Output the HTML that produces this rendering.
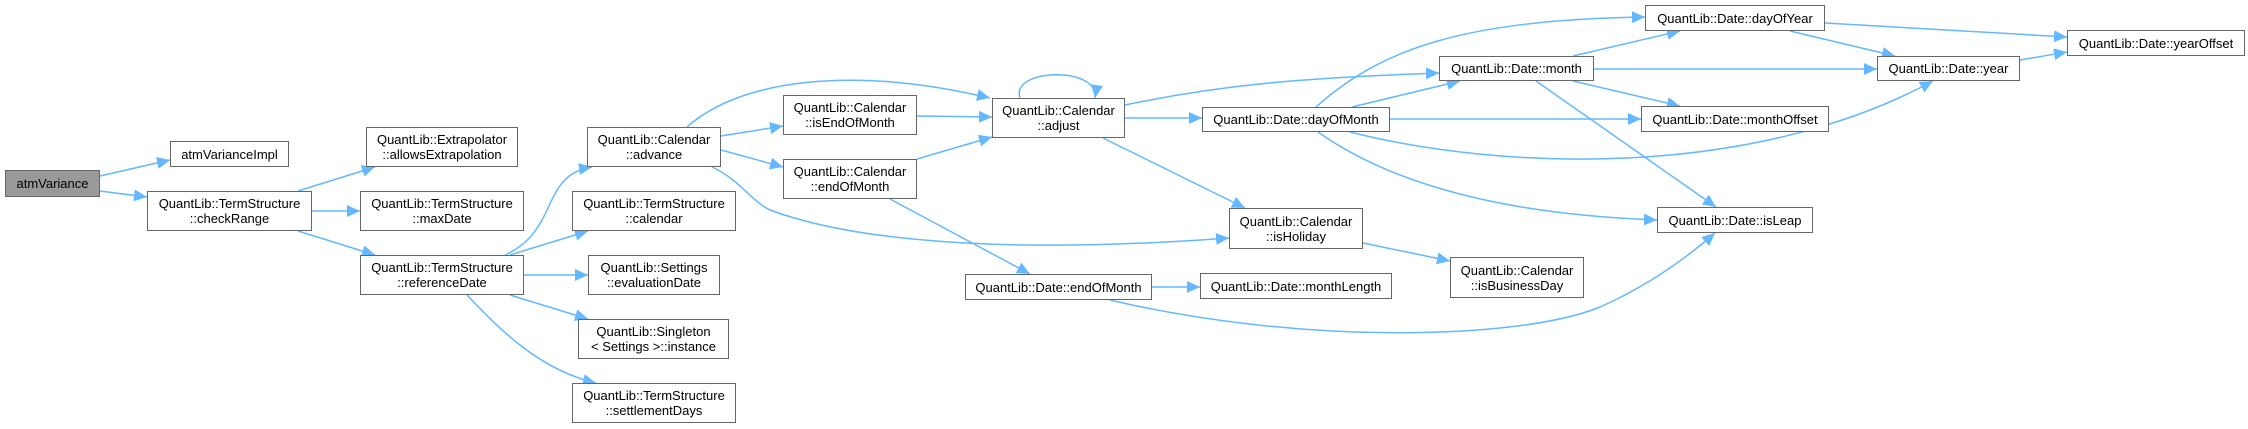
<!DOCTYPE html>
<html><head><meta charset="utf-8"><style>
html,body{margin:0;padding:0;background:#fff;}
body{width:2248px;height:429px;position:relative;overflow:hidden;font-family:"Liberation Sans",Arial,sans-serif;}
.n{position:absolute;box-sizing:border-box;border:1.5px solid #666;background:#fff;display:flex;align-items:center;justify-content:center;text-align:center;font-size:13px;line-height:15px;color:#000;white-space:nowrap;}
svg{position:absolute;left:0;top:0;}
</style></head><body>
<svg width="2248" height="429" viewBox="0 0 2248 429">
<defs><marker id="a" markerUnits="userSpaceOnUse" markerWidth="14" markerHeight="12" refX="13" refY="6" orient="auto"><path d="M0,0 L13,6 L0,12 Z" fill="#63b8ff"/></marker></defs>
<g fill="none" stroke="#63b8ff" stroke-width="1.5" marker-end="url(#a)">
<path d="M100,176 L170,160"/>
<path d="M100,191 L147,197"/>
<path d="M298,191 L375,167"/>
<path d="M312,211 L360,211"/>
<path d="M298,231 L375,255"/>
<path d="M505,255 C560,230 540,175 592,167"/>
<path d="M510,255 L588,231"/>
<path d="M524,275 L588,275"/>
<path d="M510,295 L588,319"/>
<path d="M467,295 C500,330 540,370 596,383"/>
<path d="M687,127 C740,80 850,65 990,98"/>
<path d="M721,136 L783,126"/>
<path d="M721,150 L783,167"/>
<path d="M712,167 C740,180 750,200 770,210 C850,240 1000,255 1229,238"/>
<path d="M917,116 L992,117"/>
<path d="M917,159 L992,137"/>
<path d="M1020,98 C1010,68 1100,66 1095,98"/>
<path d="M1125,105 C1220,85 1300,78 1439,73"/>
<path d="M1125,118 L1202,118"/>
<path d="M1103,138 L1245,208"/>
<path d="M890,199 L1030,274"/>
<path d="M1316,107 C1380,50 1460,20 1645,17"/>
<path d="M1352,107 L1460,81"/>
<path d="M1390,119 L1641,119"/>
<path d="M1350,132 C1500,170 1750,180 1933,81"/>
<path d="M1318,132 C1400,190 1520,215 1657,220"/>
<path d="M1363,243 L1450,261"/>
<path d="M1152,287 L1200,287"/>
<path d="M1110,300 C1300,345 1520,340 1600,307 C1650,285 1690,255 1715,233"/>
<path d="M1573,56 L1680,31"/>
<path d="M1594,69 L1877,69"/>
<path d="M1573,81 L1680,106"/>
<path d="M1536,81 L1716,207"/>
<path d="M1825,23 L2067,37"/>
<path d="M1790,31 L1895,56"/>
<path d="M2020,60 L2067,52"/>
</g></svg>
<div class="n" style="left:5px;top:170px;width:95px;height:27px;background:#999;">atmVariance</div>
<div class="n" style="left:170px;top:141px;width:119px;height:26px;">atmVarianceImpl</div>
<div class="n" style="left:147px;top:191px;width:165px;height:40px;">QuantLib::TermStructure<br>::checkRange</div>
<div class="n" style="left:366px;top:127px;width:152px;height:40px;">QuantLib::Extrapolator<br>::allowsExtrapolation</div>
<div class="n" style="left:360px;top:191px;width:164px;height:40px;">QuantLib::TermStructure<br>::maxDate</div>
<div class="n" style="left:360px;top:255px;width:164px;height:40px;">QuantLib::TermStructure<br>::referenceDate</div>
<div class="n" style="left:587px;top:127px;width:134px;height:40px;">QuantLib::Calendar<br>::advance</div>
<div class="n" style="left:572px;top:191px;width:164px;height:40px;">QuantLib::TermStructure<br>::calendar</div>
<div class="n" style="left:588px;top:255px;width:132px;height:40px;">QuantLib::Settings<br>::evaluationDate</div>
<div class="n" style="left:578px;top:319px;width:151px;height:40px;">QuantLib::Singleton<br>&lt; Settings &gt;::instance</div>
<div class="n" style="left:572px;top:383px;width:164px;height:40px;">QuantLib::TermStructure<br>::settlementDays</div>
<div class="n" style="left:783px;top:95px;width:134px;height:40px;">QuantLib::Calendar<br>::isEndOfMonth</div>
<div class="n" style="left:783px;top:159px;width:134px;height:40px;">QuantLib::Calendar<br>::endOfMonth</div>
<div class="n" style="left:992px;top:98px;width:133px;height:40px;">QuantLib::Calendar<br>::adjust</div>
<div class="n" style="left:1202px;top:107px;width:188px;height:25px;">QuantLib::Date::dayOfMonth</div>
<div class="n" style="left:1229px;top:208px;width:134px;height:41px;">QuantLib::Calendar<br>::isHoliday</div>
<div class="n" style="left:965px;top:274px;width:187px;height:26px;">QuantLib::Date::endOfMonth</div>
<div class="n" style="left:1200px;top:273px;width:192px;height:26px;">QuantLib::Date::monthLength</div>
<div class="n" style="left:1439px;top:56px;width:155px;height:25px;">QuantLib::Date::month</div>
<div class="n" style="left:1450px;top:257px;width:134px;height:41px;">QuantLib::Calendar<br>::isBusinessDay</div>
<div class="n" style="left:1645px;top:5px;width:180px;height:26px;">QuantLib::Date::dayOfYear</div>
<div class="n" style="left:1877px;top:56px;width:143px;height:25px;">QuantLib::Date::year</div>
<div class="n" style="left:2067px;top:30px;width:178px;height:26px;">QuantLib::Date::yearOffset</div>
<div class="n" style="left:1641px;top:106px;width:188px;height:26px;">QuantLib::Date::monthOffset</div>
<div class="n" style="left:1657px;top:207px;width:156px;height:26px;">QuantLib::Date::isLeap</div>
</body></html>
